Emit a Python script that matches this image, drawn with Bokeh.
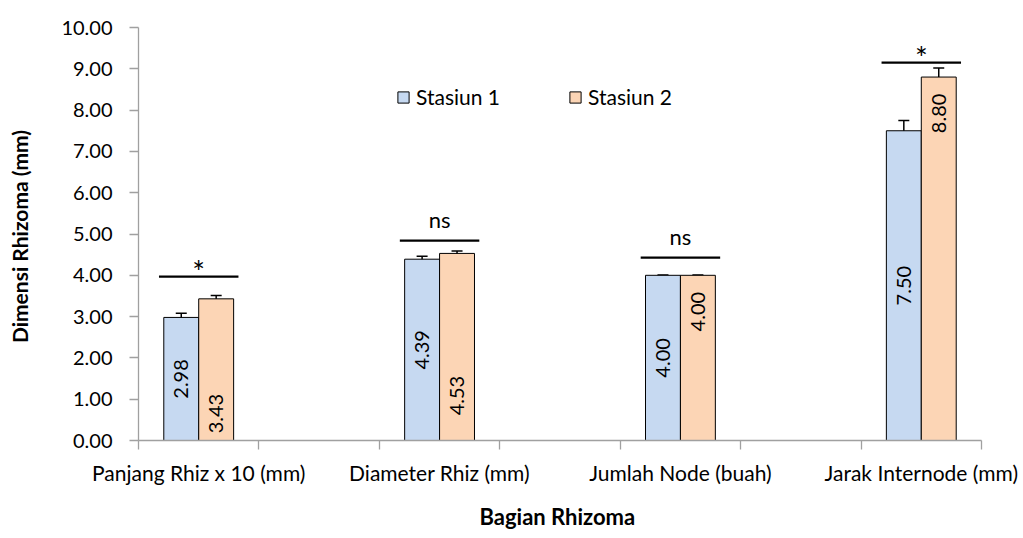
import math
from bokeh.plotting import figure
from bokeh.models import (ColumnDataSource, FixedTicker, NumeralTickFormatter, Whisker,
                          TeeHead, Legend, LegendItem, Range1d)
from bokeh.core.properties import value
from bokeh.embed import file_html
from bokeh.resources import INLINE

# ---------------- data ----------------
categories = ["Panjang Rhiz x 10 (mm)", "Diameter Rhiz (mm)",
              "Jumlah Node (buah)", "Jarak Internode (mm)"]
series_names = ["Stasiun 1", "Stasiun 2"]
stasiun1 = [2.98, 4.39, 4.00, 7.50]
stasiun2 = [3.43, 4.53, 4.00, 8.80]
err1 = [0.10, 0.07, 0.01, 0.25]
err2 = [0.08, 0.06, 0.01, 0.22]
significance = ["*", "ns", "ns", "*"]
sig_line_y = [3.97, 4.84, 4.43, 9.15]
y_ticks = [0, 1, 2, 3, 4, 5, 6, 7, 8, 9, 10]

# label placement (fraction of bar height)
label_frac1 = [0.50, 0.50, 0.50, 0.50]
label_frac2 = [0.19, 0.24, 0.78, 0.90]

# ---------------- layout ----------------
FONT = "Lato"
BLUE = "#C6D9F1"
ORANGE = "#FCD5B5"
AXIS_GRAY = "#A0A0A0"
W, H = 1023, 538
BL, BR, BT, BB = 138, 42, 27, 98
FRAME_H = H - BT - BB
px_per_unit = FRAME_H / 10.0

n_slots = 2 * len(categories) - 1
centers = [2 * i + 0.5 for i in range(len(categories))]
bw = 0.29

x1 = [c - bw / 2 for c in centers]
x2 = [c + bw / 2 for c in centers]

src1 = ColumnDataSource(dict(x=x1, top=stasiun1,
                             upper=[v + e for v, e in zip(stasiun1, err1)],
                             lower=[v - e for v, e in zip(stasiun1, err1)],
                             ly=[v * f for v, f in zip(stasiun1, label_frac1)],
                             lab=["%.2f" % v for v in stasiun1]))
src2 = ColumnDataSource(dict(x=x2, top=stasiun2,
                             upper=[v + e for v, e in zip(stasiun2, err2)],
                             lower=[v - e for v, e in zip(stasiun2, err2)],
                             ly=[v * f for v, f in zip(stasiun2, label_frac2)],
                             lab=["%.2f" % v for v in stasiun2]))

p = figure(width=W, height=H, output_backend="svg", toolbar_location=None,
           x_range=Range1d(0, n_slots), y_range=Range1d(0, 10),
           min_border_left=BL, min_border_right=BR, min_border_top=BT,
           min_border_bottom=BB)
p.outline_line_color = None
p.xgrid.visible = False
p.ygrid.visible = False
p.background_fill_color = "white"
p.border_fill_color = "white"

r1 = p.vbar(x="x", top="top", width=bw, bottom=0, source=src1,
            fill_color=BLUE, line_color="black", line_width=1)
r2 = p.vbar(x="x", top="top", width=bw, bottom=0, source=src2,
            fill_color=ORANGE, line_color="black", line_width=1)

for s in (src1, src2):
    p.add_layout(Whisker(base="x", upper="upper", lower="lower", source=s,
                         line_color="black", line_width=1.5,
                         upper_head=TeeHead(size=11, line_width=1.5, line_color="black"),
                         lower_head=TeeHead(size=11, line_width=1.5, line_color="black")))

for s in (src1, src2):
    p.text(x="x", y="ly", text="lab", source=s, angle=math.pi / 2,
           text_align="center", text_baseline="middle",
           text_font=value(FONT), text_font_size="20px", text_color="black")

# significance bars
hw = 0.33
p.segment(x0=[c - hw for c in centers], x1=[c + hw for c in centers],
          y0=sig_line_y, y1=sig_line_y, line_color="black", line_width=2.2)
star_idx = [i for i, s in enumerate(significance) if s == "*"]
ns_idx = [i for i, s in enumerate(significance) if s != "*"]
p.text(x=[centers[i] for i in star_idx],
       y=[sig_line_y[i] + 6 / px_per_unit for i in star_idx],
       text=[significance[i] for i in star_idx],
       text_align="center", text_baseline="middle",
       text_font=value(FONT), text_font_size="30px", text_color="black")
p.text(x=[centers[i] for i in ns_idx],
       y=[sig_line_y[i] + 21 / px_per_unit for i in ns_idx],
       text=[significance[i] for i in ns_idx],
       text_align="center", text_baseline="middle",
       text_font=value(FONT), text_font_size="22px", text_color="black")

# axes
xax = p.xaxis[0]
xax.ticker = FixedTicker(ticks=centers, minor_ticks=list(range(n_slots + 1)))
xax.major_label_overrides = {c: lab for c, lab in zip(centers, categories)}
xax.major_tick_out = 0
xax.major_tick_in = 0
xax.minor_tick_out = 9
xax.minor_tick_in = 0
xax.minor_tick_line_color = AXIS_GRAY
xax.axis_line_color = AXIS_GRAY
xax.axis_line_width = 1.3
xax.minor_tick_line_width = 1.3
xax.major_label_text_font = FONT
xax.major_label_text_font_size = "21px"
xax.major_label_text_color = "black"
xax.major_label_standoff = 10
xax.axis_label = "Bagian  Rhizoma"
xax.axis_label_text_font = FONT
xax.axis_label_text_font_size = "22px"
xax.axis_label_text_font_style = "bold"
xax.axis_label_text_color = "black"
xax.axis_label_standoff = 15

yax = p.yaxis[0]
yax.ticker = FixedTicker(ticks=y_ticks)
yax.formatter = NumeralTickFormatter(format="0.00")
yax.major_tick_out = 9
yax.major_tick_in = 0
yax.minor_tick_out = 0
yax.minor_tick_in = 0
yax.major_tick_line_color = AXIS_GRAY
yax.major_tick_line_width = 1.3
yax.axis_line_color = AXIS_GRAY
yax.axis_line_width = 1.3
yax.major_label_text_font = FONT
yax.major_label_text_font_size = "20px"
yax.major_label_text_color = "black"
yax.major_label_standoff = 17
yax.axis_label = "Dimensi  Rhizoma (mm)"
yax.axis_label_text_font = FONT
yax.axis_label_text_font_size = "21px"
yax.axis_label_text_font_style = "bold"
yax.axis_label_text_color = "black"
yax.axis_label_standoff = 26

legend = Legend(items=[LegendItem(label=series_names[0], renderers=[r1]),
                       LegendItem(label=series_names[1], renderers=[r2])],
                location=(258, 331), orientation="horizontal",
                glyph_width=14, glyph_height=14, label_height=14,
                label_standoff=6, spacing=68, padding=0, margin=0,
                border_line_color=None, background_fill_alpha=0,
                label_text_font=FONT, label_text_font_size="21px",
                label_text_color="black")
p.add_layout(legend, "center")

open("out.html", "w").write(file_html(p, INLINE))
